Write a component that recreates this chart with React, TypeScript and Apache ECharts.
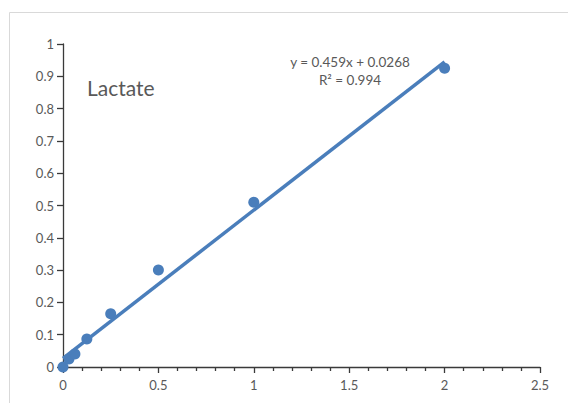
import React, { useEffect, useRef } from "react";
import * as echarts from "echarts";

const xValues = [0, 0.03125, 0.0625, 0.125, 0.25, 0.5, 1, 2];
const yValues = [0, 0.025, 0.04, 0.087, 0.165, 0.3, 0.51, 0.925];
const trendX = [0, 2];
const trendY = [0.0268, 0.9448];
const equationText = "y = 0.459x + 0.0268";
const r2Text = "R² = 0.994";
const chartTitle = "Lactate";

export default function App() {
  const ref = useRef<HTMLDivElement>(null);
  useEffect(() => {
    document.body.style.margin = "0";
    const chart = echarts.init(ref.current!, null, { renderer: "svg" });
    const font = "Lato, 'Open Sans', sans-serif";
    chart.setOption({
      animation: false,
      backgroundColor: "#ffffff",
      grid: { left: 63, right: 28, top: 44, bottom: 36, containLabel: false },
      xAxis: {
        type: "value",
        min: 0,
        max: 2.5,
        interval: 0.5,
        axisLine: { show: true, onZero: false, lineStyle: { color: "#3a3a3a", width: 1.3 } },
        axisTick: { show: true, length: 6, lineStyle: { color: "#3a3a3a", width: 1.3 } },
        minorTick: { show: true, splitNumber: 5, length: 4, lineStyle: { color: "#3a3a3a", width: 1.3 } },
        splitLine: { show: false },
        axisLabel: { color: "#595959", fontSize: 13, fontFamily: font, margin: 11 },
      },
      yAxis: {
        type: "value",
        min: 0,
        max: 1,
        interval: 0.1,
        axisLine: { show: true, onZero: false, lineStyle: { color: "#3a3a3a", width: 1.3 } },
        axisTick: { show: true, length: 6, lineStyle: { color: "#3a3a3a", width: 1.3 } },
        splitLine: { show: false },
        axisLabel: {
          color: "#595959",
          fontSize: 13,
          fontFamily: font,
          margin: 9,
          formatter: (v: number) => String(Math.round(v * 10) / 10),
        },
      },
      graphic: [
        {
          type: "rect",
          shape: { x: 9.5, y: 12.5, width: 620, height: 500 },
          style: { fill: "none", stroke: "#d9d9d9", lineWidth: 1 },
          silent: true,
          z: -10,
        },
        {
          type: "text",
          x: 87,
          y: 87,
          style: { text: chartTitle, fontSize: 21, fontFamily: font, fill: "#595959", verticalAlign: "middle" },
        },
        {
          type: "text",
          x: 350,
          y: 62,
          style: { text: equationText, fontSize: 13.5, fontFamily: font, fill: "#595959", align: "center", verticalAlign: "middle" },
        },
        {
          type: "text",
          x: 350,
          y: 80,
          style: { text: r2Text, fontSize: 13.5, fontFamily: font, fill: "#595959", align: "center", verticalAlign: "middle" },
        },
      ],
      series: [
        {
          type: "scatter",
          data: xValues.map((x, i) => [x, yValues[i]]),
          symbol: "circle",
          symbolSize: 11,
          itemStyle: { color: "#4a7ebb", opacity: 1 },
          z: 2,
        },
        {
          type: "line",
          data: trendX.map((x, i) => [x, trendY[i]]),
          showSymbol: false,
          symbol: "none",
          lineStyle: { color: "#4a7ebb", width: 3.5 },
          z: 3,
        },
      ],
    });
    return () => chart.dispose();
  }, []);
  return <div ref={ref} style={{ width: 568, height: 403, position: "absolute", left: 0, top: 0 }} />;
}
